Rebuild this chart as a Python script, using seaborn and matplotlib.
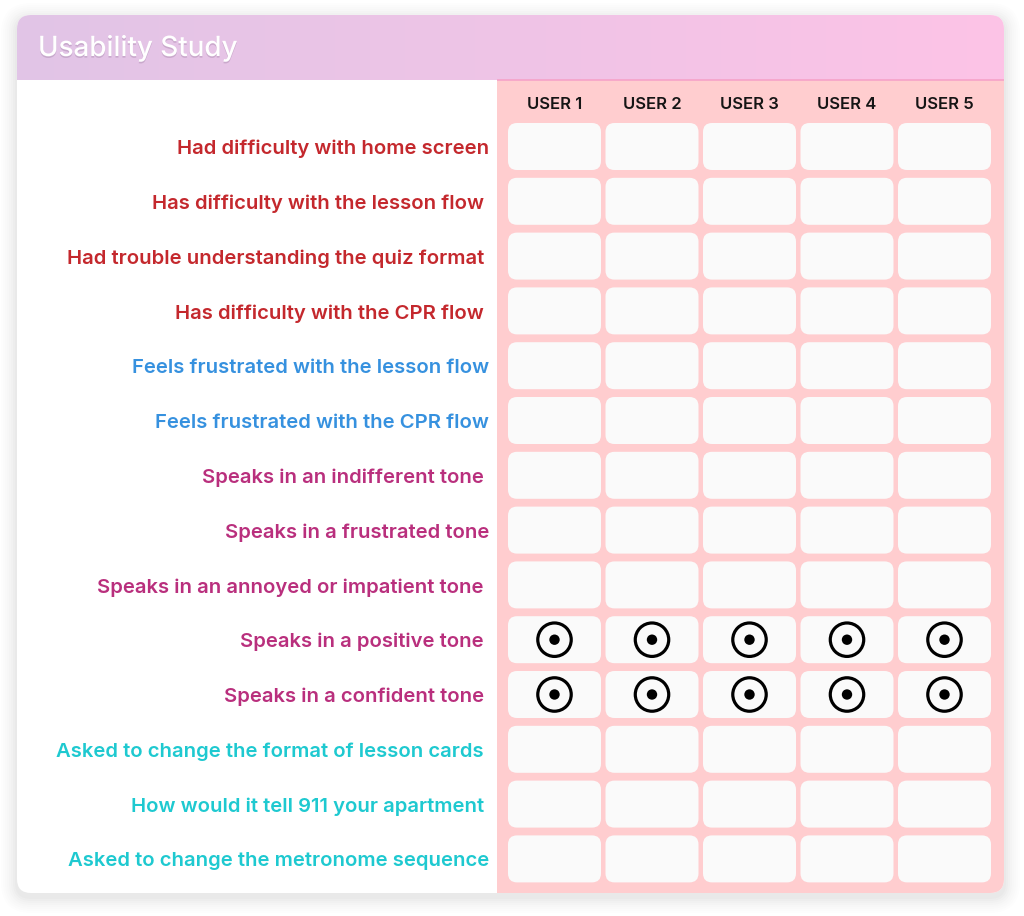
import numpy as np
import pandas as pd
import matplotlib
matplotlib.use("Agg")
import matplotlib.pyplot as plt
import matplotlib.patheffects as pe
from matplotlib.patches import FancyBboxPatch, Rectangle
import seaborn as sns

# ---------------- data ----------------
title = "Usability Study"
users = ["USER 1", "USER 2", "USER 3", "USER 4", "USER 5"]
rows = [
    "Had difficulty with home screen",
    "Has difficulty with the lesson flow ",
    "Had trouble understanding the quiz format ",
    "Has difficulty with the CPR flow ",
    "Feels frustrated with the lesson flow",
    "Feels frustrated with the CPR flow",
    "Speaks in an indifferent tone ",
    "Speaks in a frustrated tone",
    "Speaks in an annoyed or impatient tone ",
    "Speaks in a positive tone ",
    "Speaks in a confident tone ",
    "Asked to change the format of lesson cards ",
    "How would it tell 911 your apartment ",
    "Asked to change the metronome sequence",
]
groups = ["difficulty"] * 4 + ["frustration"] * 2 + ["tone"] * 5 + ["request"] * 3
group_colors = {
    "difficulty": "#c4282d",
    "frustration": "#3691df",
    "tone": "#b92f7d",
    "request": "#1ec9d0",
}
marks = [
    [0, 0, 0, 0, 0],
    [0, 0, 0, 0, 0],
    [0, 0, 0, 0, 0],
    [0, 0, 0, 0, 0],
    [0, 0, 0, 0, 0],
    [0, 0, 0, 0, 0],
    [0, 0, 0, 0, 0],
    [0, 0, 0, 0, 0],
    [0, 0, 0, 0, 0],
    [1, 1, 1, 1, 1],
    [1, 1, 1, 1, 1],
    [0, 0, 0, 0, 0],
    [0, 0, 0, 0, 0],
    [0, 0, 0, 0, 0],
]

# ---------------- layout ----------------
W, H = 1024, 916
sns.set_theme(style="white")
plt.rcParams["font.family"] = ["Inter", "DejaVu Sans"]

fig = plt.figure(figsize=(W / 100, H / 100), dpi=100)
fig.patch.set_facecolor("white")

bg = fig.add_axes([0, 0, 1, 1])
bg.set_xlim(0, W)
bg.set_ylim(H, 0)
bg.axis("off")

card_x0, card_y0, card_x1, card_y1 = 17, 15, 1004, 893
header_y1 = 80
panel_x0 = 497

# soft shadow
for i, a in enumerate([0.016, 0.014, 0.012, 0.010, 0.009, 0.008, 0.007, 0.006]):
    g = 2 + i * 2
    bg.add_patch(FancyBboxPatch((card_x0 - g, card_y0 - g + 4), card_x1 - card_x0 + 2 * g,
                                card_y1 - card_y0 + 2 * g,
                                boxstyle=f"round,pad=0,rounding_size={14 + g}",
                                fc="black", ec="none", alpha=a, zorder=0))

card = FancyBboxPatch((card_x0, card_y0), card_x1 - card_x0, card_y1 - card_y0,
                      boxstyle="round,pad=0,rounding_size=14", fc="white", ec="none", zorder=1)
bg.add_patch(card)

# header gradient
c_left = np.array(matplotlib.colors.to_rgb("#e1c5e7"))
c_right = np.array(matplotlib.colors.to_rgb("#fdc3e6"))
t = np.linspace(0, 1, 256)[None, :, None]
grad = c_left[None, None, :] * (1 - t) + c_right[None, None, :] * t
im = bg.imshow(grad, extent=(card_x0, card_x1, header_y1, card_y0), aspect="auto", zorder=2,
               interpolation="bilinear")
im.set_clip_path(card)

# pink panel
panel = Rectangle((panel_x0, header_y1), card_x1 - panel_x0, card_y1 - header_y1,
                  fc="#ffcdcf", ec="none", zorder=2)
bg.add_patch(panel)
panel.set_clip_path(card)
bg.plot([panel_x0, card_x1], [header_y1, header_y1], color="#f6a2c8", lw=1.2, zorder=3,
        solid_capstyle="butt")

bg.text(38, 49, title, color="white", fontsize=20, fontweight="medium", va="center",
        ha="left", zorder=4,
        path_effects=[pe.withSimplePatchShadow(offset=(0, -1.2), shadow_rgbFace="#7a5a80",
                                               alpha=0.25)])

# ---------------- grid axes ----------------
col_px = 97.5
row_px = 54.8
first_col_c = 554.5
first_row_c = 146.5
xl = -(first_col_c - panel_x0) / col_px
xr = (len(users) - 1) + (card_x1 - (first_col_c + col_px * (len(users) - 1))) / col_px
yt = -(first_row_c - header_y1) / row_px
yb = (len(rows) - 1) + (card_y1 - (first_row_c + row_px * (len(rows) - 1))) / row_px

ax = fig.add_axes([panel_x0 / W, (H - card_y1) / H, (card_x1 - panel_x0) / W,
                   (card_y1 - header_y1) / H])
ax.set_xlim(xl, xr)
ax.set_ylim(yb, yt)
ax.patch.set_alpha(0)
ax.axis("off")

cw, ch = 93 / col_px, 47 / row_px
aspect = col_px / row_px
for r in range(len(rows)):
    for c in range(len(users)):
        ax.add_patch(FancyBboxPatch((c - cw / 2, r - ch / 2), cw, ch,
                                    boxstyle=f"round,pad=0,rounding_size={9 / col_px}",
                                    mutation_aspect=aspect, fc="#fafafa", ec="none", zorder=1))

for c, u in enumerate(users):
    ax.text(c, -0.77, u, ha="center", va="center", fontsize=12, fontweight="semibold",
            color="#151515", zorder=3)

label_x = xl - 8 / col_px
label_dy = 2.5 / row_px
for r, (lab, g) in enumerate(zip(rows, groups)):
    ax.text(label_x, r + label_dy, lab, ha="right", va="center", fontsize=14.6,
            fontweight="semibold", color=group_colors[g], clip_on=False, zorder=3)

df = pd.DataFrame(
    [(c, r, marks[r][c]) for r in range(len(rows)) for c in range(len(users))],
    columns=["user", "row", "mark"],
)
hit = df[df["mark"] == 1]
sns.scatterplot(data=hit, x="user", y="row", ax=ax, marker="o", s=580,
                facecolor="none", edgecolor="black", linewidth=2.3, zorder=4, legend=False)
sns.scatterplot(data=hit, x="user", y="row", ax=ax, marker="o", s=56,
                color="black", edgecolor="none", zorder=5, legend=False)
ax.set_xlim(xl, xr)
ax.set_ylim(yb, yt)
ax.axis("off")

fig.savefig("out.png", dpi=100, facecolor="white")
